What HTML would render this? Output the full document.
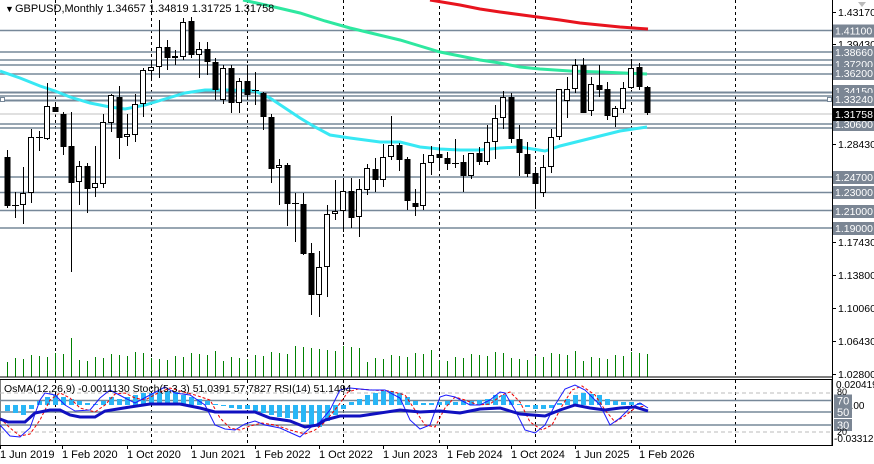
<!DOCTYPE html>
<html><head><meta charset="utf-8"><style>
html,body{margin:0;padding:0;background:#fff;}
svg{display:block;font-family:"Liberation Sans",sans-serif;}
</style></head><body>
<svg id="c" width="874" height="464" viewBox="0 0 874 464" xmlns="http://www.w3.org/2000/svg">
<rect width="874" height="464" fill="#fff"/>
<g id="grid" stroke="#000" stroke-width="1" stroke-dasharray="3,3">
<line x1="55.5" y1="0" x2="55.5" y2="377"/><line x1="151.5" y1="0" x2="151.5" y2="377"/><line x1="247.5" y1="0" x2="247.5" y2="377"/><line x1="343.5" y1="0" x2="343.5" y2="377"/><line x1="439.5" y1="0" x2="439.5" y2="377"/><line x1="535.5" y1="0" x2="535.5" y2="377"/><line x1="631.5" y1="0" x2="631.5" y2="377"/><line x1="735.5" y1="0" x2="735.5" y2="377"/>
<line x1="55.5" y1="380" x2="55.5" y2="445"/><line x1="151.5" y1="380" x2="151.5" y2="445"/><line x1="247.5" y1="380" x2="247.5" y2="445"/><line x1="343.5" y1="380" x2="343.5" y2="445"/><line x1="439.5" y1="380" x2="439.5" y2="445"/><line x1="535.5" y1="380" x2="535.5" y2="445"/><line x1="631.5" y1="380" x2="631.5" y2="445"/><line x1="735.5" y1="380" x2="735.5" y2="445"/>
</g>
<g stroke="#778899" stroke-width="1.5">
<line x1="0" y1="30.5" x2="832" y2="30.5"/><line x1="0" y1="52" x2="832" y2="52"/><line x1="0" y1="60" x2="832" y2="60"/><line x1="0" y1="65" x2="832" y2="65"/><line x1="0" y1="74" x2="832" y2="74"/><line x1="0" y1="92.5" x2="832" y2="92.5" stroke-width="2"/><line x1="0" y1="96" x2="832" y2="96"/><line x1="0" y1="100.5" x2="832" y2="100.5" stroke-width="2"/><line x1="0" y1="124" x2="832" y2="124"/><line x1="0" y1="128" x2="832" y2="128"/><line x1="0" y1="177" x2="832" y2="177"/><line x1="0" y1="192.5" x2="832" y2="192.5"/><line x1="0" y1="210.5" x2="832" y2="210.5"/><line x1="0" y1="228" x2="832" y2="228"/>
</g>
<line x1="0" y1="114" x2="832" y2="114" stroke="#c0c0c0" stroke-width="1"/>
<rect x="0.5" y="97.5" width="4" height="4" fill="#fff" stroke="#778899"/>
<rect x="827.5" y="97.5" width="4" height="4" fill="#fff" stroke="#778899"/>
<g id="vol" stroke="#008000" stroke-width="1"></g>
<polyline fill="none" stroke="#38e8f4" stroke-width="3" points="0,71 20,78 40,86 55,91 70,97 90,103 110,107 125,109 145,105 165,99 185,93 205,90 230,90 255,91 270,98 285,108 300,118 315,127 330,135 350,138 380,142 400,142 420,147 440,149 460,150 480,150 500,148 520,147 545,151 560,146 580,141 600,136 620,131 647,127"/>
<polyline fill="none" stroke="#2ee8a0" stroke-width="3" points="243,0 270,6 300,13 325,21 350,28 375,34 400,40 420,46 440,52 460,56 480,60 500,63 520,67 540,69 570,71 600,72 647,74"/>
<polyline fill="none" stroke="#e8141e" stroke-width="3" points="430,0 460,5 480,9 500,12 530,16 560,20 580,23 600,25 620,27 648,29"/>
<g id="candles"></g>
<line x1="0" y1="377" x2="832" y2="377" stroke="#000"/>
<line x1="832.5" y1="0" x2="832.5" y2="446" stroke="#000"/>
<rect x="0" y="379.5" width="832" height="66" fill="none" stroke="#000"/>
<g stroke="#bbb" stroke-dasharray="4,3"><line x1="0" y1="393" x2="832" y2="393"/><line x1="0" y1="432" x2="832" y2="432"/></g>
<g stroke="#778899" stroke-width="1.5"><line x1="0" y1="400.5" x2="832" y2="400.5"/><line x1="0" y1="412" x2="832" y2="412"/><line x1="0" y1="425" x2="832" y2="425"/></g>
<g id="osma" fill="#29b6f6"></g>
<polyline fill="none" stroke="#e00" stroke-width="1" stroke-dasharray="3,2" points="0,418 10,428 20,436 30,434 40,420 50,400 60,393 70,398 80,408 95,412 105,405 115,394 125,393 135,398 145,400 158,393 170,388 180,391 195,395 210,400 220,418 230,428 240,430 250,426 262,423 275,425 290,430 305,434 315,430 325,422 338,406 348,392 358,389 372,390 390,391 405,395 415,410 425,425 435,427 445,408 455,397 465,400 478,405 490,404 502,395 510,392 520,402 530,422 542,430 552,425 562,406 572,390 582,386 595,395 605,410 615,422 625,416 635,408 645,406"/>
<polyline fill="none" stroke="#1a1aff" stroke-width="1" points="0,425 10,436 20,437 30,428 40,400 45,393 55,395 65,405 75,411 90,410 100,398 110,390 125,398 135,403 150,395 165,387 175,393 190,395 205,405 215,425 225,429 235,430 245,424 255,421 265,425 280,428 300,437 310,428 320,422 330,410 340,390 350,388 370,390 385,390 400,398 410,420 420,429 430,425 440,397 446,395 455,397 470,405 480,405 490,400 500,392 505,393 515,410 525,430 535,433 545,425 555,405 565,389 575,385 585,390 600,405 610,425 620,418 630,408 640,403 648,408"/>
<polyline fill="none" stroke="#1010c0" stroke-width="3" points="0,419 8,422 25,422 35,413 50,410 60,410 70,415 80,417 95,417 105,411 130,407 150,404 180,404 200,408 215,412 255,412 270,418 290,421 305,427 318,425 325,420 340,416 360,416 380,413 400,410 420,412 440,411 460,413 480,409 500,408 510,411 520,414 545,416 560,410 575,405 590,408 605,410 620,408 635,407 648,411"/>
<g font-size="11" fill="#000">
<text x="5" y="12" font-size="9">▼</text>
<text x="15" y="12">GBPUSD,Monthly  1.34657 1.34819 1.31725 1.31758</text>
<text x="4" y="392" font-size="10.5">OsMA(12,26,9) -0.0011130  Stoch(5,3,3) 51.0391 57.7827  RSI(14) 51.1494</text>
</g>
<g id="axis" font-size="10.5"></g>
<g font-size="11" fill="#000">
<text x="0" y="458">1 Jun 2019</text><text x="62" y="458">1 Feb 2020</text><text x="127" y="458">1 Oct 2020</text><text x="191" y="458">1 Jun 2021</text><text x="255" y="458">1 Feb 2022</text><text x="319" y="458">1 Oct 2022</text><text x="383" y="458">1 Jun 2023</text><text x="447" y="458">1 Feb 2024</text><text x="511" y="458">1 Oct 2024</text><text x="575" y="458">1 Jun 2025</text><text x="639" y="458">1 Feb 2026</text>
</g>
<path d="M858 2 l8 0 l-4 5 z" fill="#bbb"/>
</svg>
<script>
var NS="http://www.w3.org/2000/svg";
function el(p,t,a){var e=document.createElementNS(NS,t);for(var k in a)e.setAttribute(k,a[k]);p.appendChild(e);return e;}
var C=[[7,'b',157,206,150,208],[15,'d',205,205,192,218],[23,'w',193,205,167,224],[31,'w',137,193,129,203],[39,'d',137,137,131,151],[47,'w',106,139,83,140],[55,'b',107,112,105,112],[63,'b',114,147,112,155],[71,'b',146,183,112,272],[79,'w',166,182,161,205],[87,'b',166,189,163,213],[95,'w',183,188,146,197],[103,'w',122,184,114,188],[111,'w',95,123,94,132],[119,'b',97,138,86,159],[127,'w',134,137,114,146],[135,'w',104,135,94,142],[143,'w',70,104,68,117],[151,'w',67,71,60,78],[159,'w',47,67,20,78],[167,'b',47,58,40,70],[175,'w',56,58,50,65],[183,'w',22,57,18,60],[191,'b',21,55,17,58],[199,'w',49,55,42,78],[207,'b',49,62,42,75],[215,'b',62,90,58,100],[223,'w',68,100,65,104],[231,'b',68,103,65,113],[239,'w',81,103,78,113],[247,'b',81,95,65,100],[255,'d',90,90,72,105],[263,'b',93,117,92,130],[271,'b',117,169,114,183],[279,'w',165,168,159,205],[287,'b',165,204,163,226],[295,'d',203,203,193,242],[303,'b',204,254,193,255],[311,'b',253,295,243,315],[319,'w',267,295,251,317],[327,'w',214,267,205,297],[335,'w',211,214,180,220],[343,'w',191,211,178,232],[351,'b',191,218,178,228],[359,'w',189,217,179,237],[367,'w',168,190,164,195],[375,'b',169,180,158,192],[383,'w',157,180,144,187],[391,'w',145,157,116,160],[399,'b',145,160,143,171],[407,'b',159,201,157,210],[415,'b',203,207,189,216],[423,'w',163,206,154,210],[431,'w',155,163,146,175],[439,'b',154,158,145,168],[447,'b',158,164,152,170],[455,'d',163,163,139,168],[463,'b',162,176,155,192],[471,'w',153,176,153,179],[479,'b',153,162,147,165],[487,'w',142,162,125,165],[495,'w',118,142,105,159],[503,'w',97,118,91,129],[511,'b',97,139,93,143],[519,'b',139,153,125,176],[527,'b',154,174,142,177],[535,'b',173,184,167,209],[543,'w',167,193,155,197],[551,'w',137,167,129,173],[559,'w',89,137,89,140],[567,'w',89,101,77,118],[575,'w',65,89,59,93],[583,'b',65,113,58,113],[591,'w',84,111,77,116],[599,'b',85,90,65,97],[607,'b',89,116,82,120],[615,'w',108,117,106,127],[623,'w',88,109,82,113],[631,'w',68,88,59,89],[639,'b',67,87,63,90],[647,'b',87,113,86,115]];
var g=document.getElementById('candles'),v=document.getElementById('vol'),o=document.getElementById('osma');
var OS=[-6,-8,-10,-4,4,8,10,8,6,4,2,1,4,8,6,8,10,12,12,14,14,13,10,8,6,4,1,-1,-3,-4,-4,-6,-8,-10,-12,-13,-14,-17,-20,-22,-16,-10,-4,3,6,10,12,14,14,12,8,4,2,2,3,4,3,4,4,5,6,10,10,5,1,-2,-4,-4,-3,2,6,10,12,11,10,6,4,3,3,2,0];
C.forEach(function(c,i){var x=c[0]+0.5;
 el(g,'line',{x1:x,y1:c[4],x2:x,y2:c[5],stroke:'#000','stroke-width':1});
 var h=Math.max(c[3]-c[2],1);
 if(c[1]=='b') el(g,'rect',{x:c[0]-2.5,y:c[2],width:6,height:h,fill:'#000'});
 else if(c[1]=='w') el(g,'rect',{x:c[0]-2.5,y:c[2]+0.5,width:5,height:h-1,fill:'#fff',stroke:'#000'});
 else el(g,'line',{x1:c[0]-3,y1:c[2]+0.5,x2:c[0]+4,y2:c[2]+0.5,stroke:'#000'});
 var vt=362-((i*37)%9)-((i*13)%5); if(c[0]==71)vt=338; if(c[0]>=295&&c[0]<=360)vt=346+((i*7)%6);
 el(v,'line',{x1:x,y1:vt,x2:x,y2:377});
 var b=OS[i]||0; if(b>0) el(o,'rect',{x:c[0]-2,y:405-b,width:5,height:b}); else if(b<0) el(o,'rect',{x:c[0]-2,y:405,width:5,height:-b});
});
var A=document.getElementById('axis');
var L=[[12,'1.43170',0],[30.5,'1.41100',1],[44,'1.39430',0],[52,'1.38660',1],[64,'1.37200',1],[73,'1.36200',1],[91,'1.34150',1],[99,'1.33240',1],[124,'1.30600',1],[114,'1.31758',2],[144,'1.28430',0],[177,'1.24700',1],[192,'1.23000',1],[211,'1.21000',1],[228,'1.19000',1],[242,'1.17430',0],[275,'1.13800',0],[308,'1.10060',0],[341,'1.06430',0],[374,'1.02800',0]];
L.forEach(function(l){
 if(l[2]==0){el(A,'line',{x1:832,y1:l[0]+0.5,x2:836,y2:l[0]+0.5,stroke:'#000'});var t=el(A,'text',{x:838,y:l[0]+4,fill:'#000'});t.textContent=l[1];}
 else{el(A,'rect',{x:833,y:l[0]-6,width:41,height:13,fill:l[2]==2?'#000':'#7b8694'});var t=el(A,'text',{x:835,y:l[0]+4,fill:'#fff'});t.textContent=l[1];}
});
[[384,'0.020419','#000',836],[438,'-0.033122','#000',834],[405,'0.00','#000',845]].forEach(function(l){var t=el(A,'text',{x:l[3],y:l[0]+4,fill:l[2],'font-size':10});t.textContent=l[1];});
[[400.5,'70'],[412,'50'],[425,'30']].forEach(function(l){el(A,'rect',{x:834,y:l[0]-6,width:18,height:12,fill:'#7b8694'});var t=el(A,'text',{x:837,y:l[0]+4,fill:'#fff','font-size':11});t.textContent=l[1];});
[[392,'80'],[432,'20']].forEach(function(l){var t=el(A,'text',{x:837,y:l[0]+3,fill:'#000','font-size':9});t.textContent=l[1];});
[0,62,127,191,255,319,383,447,511,575,639].forEach(function(x){el(A,'line',{x1:x+0.5,y1:445,x2:x+0.5,y2:449,stroke:'#000'});});
</script>
</body></html>
